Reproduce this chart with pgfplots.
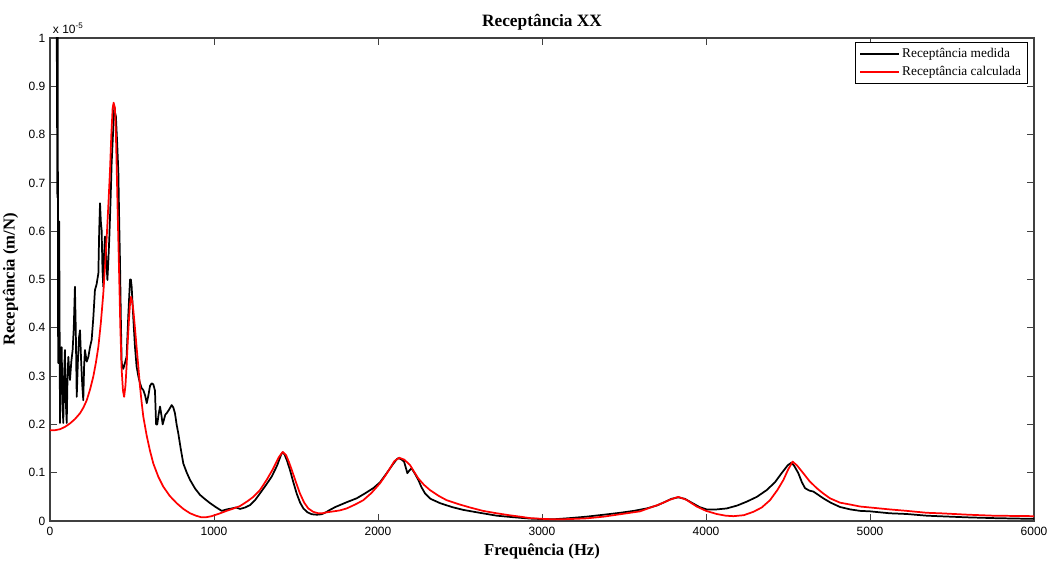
\documentclass[border=0pt]{standalone}
\usepackage{pgfplots}
\pgfplotsset{compat=1.18}
\usepackage{fontspec}
\setmainfont{Liberation Serif}
\newfontfamily\sansf{Liberation Sans}
\begin{document}
\begin{tikzpicture}
\begin{axis}[
  scale only axis, width=738pt, height=362.25pt,
  xmin=0, xmax=6000, ymin=0, ymax=1,
  xtick={0,1000,2000,3000,4000,5000,6000},
  xticklabels={0,1000,2000,3000,4000,5000,6000},
  ytick={0,0.1,0.2,0.3,0.4,0.5,0.6,0.7,0.8,0.9,1},
  yticklabels={0,0.1,0.2,0.3,0.4,0.5,0.6,0.7,0.8,0.9,1},
  tick align=inside, tick pos=both, major tick length=5pt,
  tick style={black!75, line width=0.6pt},
  axis line style={black!75, line width=0.8pt},
  ticklabel style={font=\sansf\fontsize{9}{10}\selectfont},
  xticklabel style={yshift=-1pt},
  title={Receptância XX},
  title style={font=\bfseries\fontsize{13}{15}\selectfont, yshift=-4pt},
  xlabel={Frequência (Hz)},
  ylabel={Receptância (m/N)},
  label style={font=\bfseries\fontsize{12.5}{14}\selectfont},
  xlabel style={yshift=1pt},
  ylabel style={yshift=1pt},
  legend style={at={(rel axis cs:0.994,0.992)}, anchor=north east, draw=black,
    line width=0.6pt, font=\fontsize{10}{12}\selectfont, inner xsep=3pt, inner ysep=2.5pt,
    row sep=1pt},
  legend cell align=left,
  legend image code/.code={\draw[#1, line width=1.2pt] (0pt,0pt) -- (29pt,0pt);},
  every axis plot/.append style={line width=1.3pt, line join=round},
]
\addplot[black] coordinates {
(38,1.30) (45,0.67) (47,1.10) (49,0.40) (51,0.327) (56,0.62) (61,0.203) (66,0.33)
(71,0.36) (76,0.25) (81,0.203) (86,0.30) (91,0.354) (96,0.25) (102,0.203) (107,0.30)
(112,0.34) (117,0.31) (122,0.292) (130,0.33) (138,0.354) (145,0.40) (152,0.485) (157,0.40)
(163,0.257) (170,0.33) (177,0.38) (183,0.395) (190,0.33) (197,0.28) (203,0.25) (208,0.32)
(213,0.354) (224,0.33) (234,0.34) (244,0.36) (254,0.375) (264,0.42) (274,0.478) (284,0.49)
(295,0.513) (300,0.60) (305,0.658) (310,0.62) (315,0.602) (320,0.52) (325,0.485) (330,0.55)
(335,0.589) (342,0.55) (350,0.499) (356,0.54) (362,0.589) (369,0.66) (376,0.741) (384,0.80)
(392,0.858) (397,0.845) (402,0.837) (410,0.78) (417,0.72) (422,0.62) (427,0.534) (432,0.42)
(437,0.327) (447,0.315) (457,0.327) (467,0.34) (478,0.43) (488,0.50) (493,0.50) (498,0.485)
(508,0.42) (518,0.361) (528,0.32) (539,0.299) (549,0.285) (559,0.275) (569,0.271) (580,0.26)
(590,0.244) (600,0.26) (610,0.28) (620,0.285) (630,0.283) (640,0.27) (647,0.20) (654,0.20)
(662,0.22) (671,0.237) (679,0.22) (687,0.20) (695,0.21) (703,0.22) (711,0.223) (725,0.23)
(742,0.24) (752,0.235) (762,0.223) (772,0.20) (782,0.182) (797,0.15) (813,0.119) (834,0.10)
(854,0.085) (885,0.067) (915,0.054) (946,0.045) (976,0.037) (1010,0.029) (1047,0.021) (1078,0.024)
(1108,0.026) (1134,0.028) (1159,0.025) (1190,0.028) (1220,0.033) (1250,0.043) (1280,0.057) (1320,0.076)
(1352,0.092) (1385,0.115) (1410,0.138) (1419,0.142) (1430,0.138) (1445,0.125) (1463,0.106) (1484,0.080)
(1504,0.057) (1525,0.038) (1545,0.026) (1570,0.018) (1596,0.014) (1627,0.013) (1657,0.014) (1682,0.018)
(1707,0.023) (1740,0.029) (1768,0.033) (1810,0.039) (1870,0.047) (1920,0.057) (1971,0.068) (2012,0.080)
(2053,0.099) (2090,0.117) (2115,0.128) (2124,0.130) (2140,0.128) (2159,0.123) (2170,0.110) (2179,0.099)
(2190,0.104) (2205,0.109) (2225,0.098) (2246,0.085) (2265,0.070) (2287,0.057) (2320,0.046) (2378,0.037)
(2450,0.029) (2520,0.023) (2620,0.017) (2724,0.011) (2820,0.008) (2927,0.005) (3000,0.004) (3069,0.0035)
(3170,0.006) (3272,0.009) (3376,0.013) (3476,0.017) (3560,0.021) (3638,0.026) (3700,0.032) (3740,0.038)
(3790,0.046) (3831,0.049) (3870,0.046) (3923,0.036) (3960,0.029) (4004,0.024) (4065,0.024) (4126,0.026)
(4190,0.032) (4248,0.040) (4310,0.050) (4370,0.064) (4420,0.080) (4461,0.099) (4500,0.116) (4522,0.121)
(4540,0.113) (4563,0.099) (4585,0.080) (4604,0.068) (4630,0.063) (4654,0.061) (4685,0.054) (4715,0.047)
(4760,0.038) (4817,0.029) (4880,0.024) (4939,0.021) (5000,0.020) (5120,0.016) (5224,0.0145) (5346,0.011)
(5450,0.0095) (5600,0.0075) (5752,0.0060) (5900,0.0050) (6000,0.0045)
};
\addlegendentry{Receptância medida}
\addplot[red] coordinates {
(0,0.188) (30,0.188) (61,0.19) (92,0.195) (122,0.202) (152,0.211) (183,0.223) (204,0.235)
(224,0.25) (244,0.272) (264,0.299) (280,0.328) (295,0.361) (310,0.41) (325,0.471) (336,0.53)
(346,0.589) (356,0.655) (366,0.727) (374,0.80) (382,0.855) (388,0.866) (396,0.855) (402,0.80)
(407,0.727) (414,0.62) (421,0.52) (429,0.40) (437,0.313) (445,0.27) (452,0.257) (460,0.28)
(467,0.32) (474,0.37) (482,0.42) (488,0.45) (494,0.464) (501,0.455) (508,0.437) (518,0.40)
(528,0.36) (539,0.318) (549,0.278) (559,0.245) (569,0.216) (580,0.195) (590,0.176) (610,0.145)
(630,0.119) (660,0.092) (691,0.071) (730,0.052) (772,0.037) (813,0.025) (854,0.016) (890,0.011)
(925,0.0075) (955,0.008) (986,0.010) (1030,0.015) (1077,0.021) (1120,0.026) (1159,0.031) (1200,0.040)
(1240,0.050) (1280,0.064) (1321,0.085) (1360,0.108) (1395,0.132) (1419,0.143) (1440,0.136) (1457,0.122)
(1474,0.106) (1500,0.080) (1524,0.057) (1550,0.038) (1575,0.026) (1605,0.019) (1636,0.016) (1660,0.016)
(1687,0.018) (1730,0.020) (1768,0.022) (1809,0.026) (1860,0.034) (1910,0.043) (1960,0.058) (2012,0.078)
(2045,0.094) (2073,0.109) (2100,0.124) (2130,0.131) (2160,0.127) (2195,0.116) (2220,0.102) (2246,0.088)
(2280,0.075) (2317,0.064) (2370,0.052) (2419,0.043) (2490,0.035) (2561,0.028) (2640,0.021) (2724,0.016)
(2800,0.012) (2866,0.009) (2927,0.006) (3000,0.0045) (3069,0.0035) (3170,0.004) (3272,0.0055) (3376,0.009)
(3476,0.014) (3598,0.020) (3679,0.030) (3720,0.035) (3780,0.044) (3831,0.050) (3880,0.044) (3943,0.030)
(4000,0.021) (4065,0.0145) (4120,0.011) (4167,0.010) (4230,0.012) (4289,0.019) (4340,0.028) (4390,0.043)
(4435,0.064) (4472,0.085) (4500,0.106) (4528,0.123) (4555,0.115) (4593,0.099) (4630,0.083) (4675,0.068)
(4715,0.057) (4756,0.047) (4817,0.038) (4880,0.034) (4939,0.030) (5000,0.028) (5120,0.024) (5224,0.021)
(5346,0.017) (5427,0.016) (5600,0.013) (5752,0.011) (6000,0.010)
};
\addlegendentry{Receptância calculada}
\end{axis}
\node[anchor=south west, inner sep=0pt, font=\sansf\fontsize{9}{10}\selectfont]
  at ([xshift=2pt,yshift=3pt]current axis.north west) {x 10\textsuperscript{-5}};
\pgfresetboundingbox
\path[use as bounding box] ([shift={(-37.5pt,-30pt)}]current axis.south west)
  rectangle ([shift={(11.25pt,28.5pt)}]current axis.north east);
\end{tikzpicture}
\end{document}
